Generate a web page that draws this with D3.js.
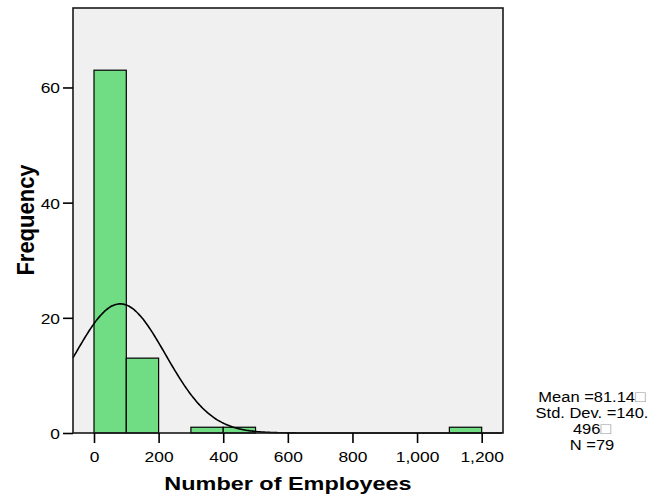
<!DOCTYPE html>
<html>
<head>
<meta charset="utf-8">
<script src="https://cdn.jsdelivr.net/npm/d3@7"></script>
<style>
  html, body { margin: 0; padding: 0; background: #fff; }
  svg { display: block; font-family: Arial, "Liberation Sans", sans-serif; }
</style>
</head>
<body>
<svg id="chart" width="663" height="497"></svg>
<script>
// Histogram of employee counts (bin width 100)
const binStarts = [0, 100, 300, 400, 1100];
const binCounts = [63, 13, 1, 1, 1];
const binWidth = 100;
const xTicks = [0, 200, 400, 600, 800, 1000, 1200];
const yTicks = [0, 20, 40, 60];
const statMean = 81.14;
const statSD = 140.496;
const statN = 79;
const statLines = ["Mean =81.14", "Std. Dev. =140.", "496", "N =79"];
const boxAfter = [true, false, true, false];

const svg = d3.select("#chart");
const frame = { left: 73, right: 503, top: 8, bottom: 433 };
const FONT = "Arial, 'Liberation Sans', sans-serif";

const x = d3.scaleLinear().domain([-65, 1266]).range([frame.left, frame.right]);
const y = d3.scaleLinear().domain([0, 73.8]).range([frame.bottom, frame.top]);

// plot background
svg.append("rect")
  .attr("x", frame.left).attr("y", frame.top)
  .attr("width", frame.right - frame.left).attr("height", frame.bottom - frame.top)
  .attr("fill", "#f0f0f0");

// bars
svg.append("g").selectAll("rect")
  .data(binStarts.map((s, i) => ({ s, c: binCounts[i] })))
  .join("rect")
  .attr("x", d => x(d.s))
  .attr("y", d => y(d.c))
  .attr("width", d => x(d.s + binWidth) - x(d.s))
  .attr("height", d => y(0) - y(d.c))
  .attr("fill", "#70dc84")
  .attr("stroke", "#000")
  .attr("stroke-width", 1.2);

// normal curve scaled to counts
const scale = statN * binWidth / (statSD * Math.sqrt(2 * Math.PI));
const pts = d3.range(x.domain()[0], x.domain()[1] + 1, 4).map(v =>
  [v, scale * Math.exp(-0.5 * Math.pow((v - statMean) / statSD, 2))]);
svg.append("path")
  .datum(pts)
  .attr("d", d3.line().x(d => x(d[0])).y(d => y(d[1])).curve(d3.curveBasis))
  .attr("fill", "none")
  .attr("stroke", "#000")
  .attr("stroke-width", 1.6);

// frame border
svg.append("rect")
  .attr("x", frame.left).attr("y", frame.top)
  .attr("width", frame.right - frame.left).attr("height", frame.bottom - frame.top)
  .attr("fill", "none")
  .attr("stroke", "#1a1a1a")
  .attr("stroke-width", 1.6);

// axes
const fmt = d3.format(",");
const tickStretch = 1.13;
const xAxis = svg.append("g")
  .attr("transform", `translate(0,${frame.bottom})`)
  .call(d3.axisBottom(x).tickValues(xTicks).tickFormat(fmt).tickSize(10).tickSizeOuter(0));
const yAxis = svg.append("g")
  .attr("transform", `translate(${frame.left},0)`)
  .call(d3.axisLeft(y).tickValues(yTicks).tickSize(10).tickSizeOuter(0));

[xAxis, yAxis].forEach(a => {
  a.select(".domain").remove();
  a.selectAll(".tick line").attr("stroke", "#000").attr("stroke-width", 1.6);
  a.selectAll(".tick text")
    .attr("fill", "#000")
    .attr("transform", `scale(${tickStretch},1)`)
    .style("font-size", "15.4px")
    .style("font-family", FONT);
});
xAxis.selectAll(".tick text").attr("dy", "0").attr("y", 29);
yAxis.selectAll(".tick text").attr("x", -13 / tickStretch).attr("dy", "0.35em");

// axis titles
svg.append("text")
  .attr("transform", `translate(${(frame.left + frame.right) / 2},490) scale(1.26,1)`)
  .attr("text-anchor", "middle")
  .style("font-size", "18.6px")
  .style("font-weight", "bold")
  .text("Number of Employees");

svg.append("text")
  .attr("transform", `translate(34,220) rotate(-90) scale(1,1.12)`)
  .attr("text-anchor", "middle")
  .style("font-size", "22px")
  .style("font-weight", "bold")
  .text("Frequency");

// summary statistics
const stats = svg.append("g");
statLines.forEach((t, i) => {
  const tx = stats.append("text")
    .attr("transform", `translate(592,${401.5 + i * 16}) scale(1.1,1)`)
    .attr("text-anchor", "middle")
    .style("font-size", "15px")
    .text(t);
  if (boxAfter[i]) {
    tx.append("tspan").attr("fill", "#999").style("font-size", "16px").text("\u25A1");
  }
});
</script>
</body>
</html>
